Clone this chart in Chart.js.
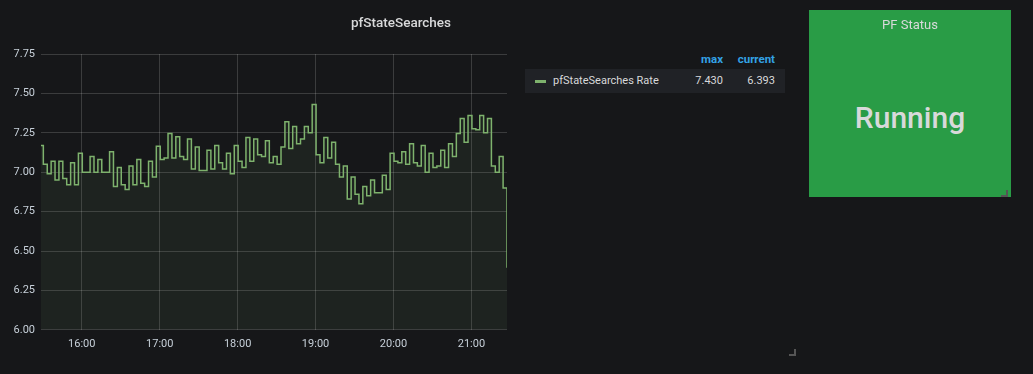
<!DOCTYPE html>
<html>
<head>
<meta charset="utf-8">
<script src="https://cdn.jsdelivr.net/npm/chart.js@4/dist/chart.umd.min.js"></script>
<style>
  body { margin: 0; background: #161719; font-family: Roboto, 'Noto Sans', sans-serif; }
  .page { position: relative; width: 1033px; height: 374px; overflow: hidden; background: #161719; }
  .graph-title { position: absolute; left: 0; width: 802px; top: 14px; text-align: center; color: #d8d9da; font-size: 13.5px; font-weight: 500; }
  .chart-box { position: absolute; left: 0; top: 0; width: 515px; height: 374px; }
  .legend { position: absolute; left: 525px; top: 50px; width: 260px; font-size: 11px; }
  .legend .head { height: 19px; position: relative; color: #33a2e5; font-weight: 700; font-size: 11.5px; }
  .legend .head span { position: absolute; top: 2px; }
  .legend .row { position: relative; height: 24px; background: #202226; color: #d8d9da; }
  .legend .row span { position: absolute; top: 5px; }
  .legend .dash { position: absolute; left: 10px; top: 11px; width: 11px; height: 3px; background: #7eb26d; }
  .status { position: absolute; left: 809px; top: 10px; width: 202px; height: 187px; background: #299c46; color: #d8d9da; text-align: center; }
  .status .title { position: absolute; left: 0; right: 0; top: 7px; font-size: 13px; }
  .status .value { position: absolute; left: 0; right: 0; top: 90px; font-size: 30px; font-weight: 500; }
  .corner { position: absolute; width: 5px; height: 5px; border-right: 2px solid #555; border-bottom: 2px solid #555; }
</style>
</head>
<body>
<div class="page">
  <div class="chart-box"><canvas id="rate-chart" width="515" height="374"></canvas></div>
  <div class="graph-title">pfStateSearches</div>

  <div class="legend">
    <div class="head"><span style="right:62px">max</span><span style="right:10px">current</span></div>
    <div class="row">
      <div class="dash"></div>
      <span style="left:28px">pfStateSearches Rate</span>
      <span id="legend-max" style="right:62px"></span>
      <span id="legend-current" style="right:10px"></span>
    </div>
  </div>
  <div class="corner" style="left:789px; top:349px"></div>

  <div class="status">
    <div class="title">PF Status</div>
    <div class="value">Running</div>
    <div class="corner" style="left:192px; top:180px"></div>
  </div>
</div>

<script>
  // start: data
  const hourLabels = ['16:00', '17:00', '18:00', '19:00', '20:00', '21:00']
  const firstSampleMinute = 927.4   // 15:27.4, one sample before the visible range
  const sampleStepMinutes = 3
  const rangeStartMinute = 928.6

  const rateValues = [
      7.17, 7.05, 6.99, 7.07, 6.95, 7.07, 6.96, 6.92, 7.06, 6.92,
      7.12, 7.00, 7.00, 7.10, 7.00, 7.08, 7.00, 7.00, 7.13, 6.91,
      7.03, 6.92, 6.89, 7.04, 6.92, 7.08, 6.93, 6.91, 7.07, 6.97,
      7.165, 7.08, 7.09, 7.245, 7.09, 7.225, 7.10, 7.08, 7.21, 7.02,
      7.16, 7.01, 7.01, 7.14, 7.02, 7.17, 7.06, 7.02, 7.12, 6.99,
      7.17, 7.07, 7.03, 7.22, 7.07, 7.21, 7.11, 7.10, 7.20, 7.06,
      7.10, 7.05, 7.16, 7.32, 7.15, 7.29, 7.18, 7.21, 7.29, 7.25,
      7.43, 7.11, 7.06, 7.22, 7.09, 7.19, 7.05, 6.97, 7.04, 6.83,
      6.97, 6.86, 6.80, 6.91, 6.85, 6.95, 6.87, 6.87, 6.98, 6.89,
      7.12, 7.07, 7.06, 7.13, 7.05, 7.18, 7.06, 7.04, 7.17, 7.00,
      7.12, 7.03, 7.04, 7.14, 7.03, 7.18, 7.10, 7.245, 7.34, 7.19,
      7.36, 7.275, 7.27, 7.36, 7.25, 7.34, 7.04, 7.00, 7.10, 6.90,
      6.393
  ]
  const legendMax = '7.430'
  const legendCurrent = '6.393'

  const yMin = 6.0
  const yMax = 7.75
  const yStep = 0.25
  // end: data

  document.getElementById('legend-max').textContent = legendMax
  document.getElementById('legend-current').textContent = legendCurrent

  function toMinutes(label) {
      const parts = label.split(':')
      return Number(parts[0]) * 60 + Number(parts[1])
  }
  const hourTicks = hourLabels.map(toMinutes)

  const points = rateValues.map(function (v, i) {
      return { x: firstSampleMinute + i * sampleStepMinutes, y: v }
  })
  // range ends on the last sample
  const rangeEndMinute = points[points.length - 1].x

  const gridColor = 'rgba(255, 255, 255, 0.16)'
  const tickColor = '#c7d0d9'

  new Chart(document.getElementById('rate-chart'), {
      type: 'line',
      data: {
          datasets: [
              {
                  label: 'pfStateSearches Rate',
                  data: points,
                  // hold each value until the next sample (grafana staircase)
                  stepped: 'before',
                  borderWidth: 1.5,
                  borderColor: '#7eb26d',
                  backgroundColor: 'rgba(126, 178, 109, 0.08)',
                  fill: 'start',
                  pointRadius: 0,
                  tension: 0
              }
          ]
      },
      options: {
          responsive: false,
          animation: false,
          layout: {
              padding: { left: 0, right: 8, top: 54, bottom: 15 }
          },
          plugins: {
              legend: { display: false },
              tooltip: { enabled: false }
          },
          scales: {
              x: {
                  type: 'linear',
                  min: rangeStartMinute,
                  max: rangeEndMinute,
                  afterBuildTicks: function (scale) {
                      scale.ticks = hourTicks.map(function (t) { return { value: t } })
                  },
                  grid: { color: gridColor, drawTicks: false },
                  border: { display: false },
                  ticks: {
                      color: tickColor,
                      padding: 8,
                      maxRotation: 0,
                      font: { family: 'Roboto', size: 11 },
                      callback: function (value) {
                          const idx = hourTicks.indexOf(value)
                          return idx >= 0 ? hourLabels[idx] : ''
                      }
                  }
              },
              y: {
                  min: yMin,
                  max: yMax,
                  afterFit: function (scale) { scale.width = 41 },
                  grid: { color: gridColor, drawTicks: false },
                  border: { display: false },
                  ticks: {
                      stepSize: yStep,
                      color: tickColor,
                      padding: 6,
                      font: { family: 'Roboto', size: 11 },
                      callback: function (value) { return value.toFixed(2) }
                  }
              }
          }
      }
  })
</script>
</body>
</html>
